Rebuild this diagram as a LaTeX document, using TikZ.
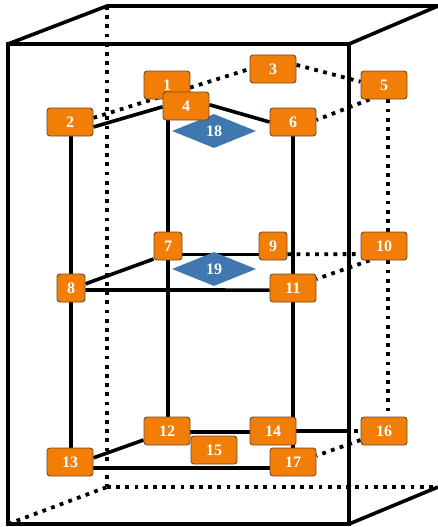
\documentclass[tikz,border=0pt]{standalone}
\usepackage{fontspec}
\setmainfont{Liberation Serif}
\usetikzlibrary{shapes.geometric,backgrounds}
\definecolor{boxorange}{HTML}{F27D07}
\definecolor{boxedge}{HTML}{6E4A28}
\definecolor{gemblue}{HTML}{3F77AF}
\tikzset{
  wide/.style={draw=boxedge,line width=0.9pt,fill=boxorange,rounded corners=3pt,minimum width=46pt,minimum height=28pt,inner sep=0pt,text=white,font=\bfseries\fontsize{16}{16}\selectfont},
  narrow/.style={wide,minimum width=28pt},
  gem/.style={diamond,aspect=2.5,fill=gemblue,minimum width=84pt,minimum height=34pt,inner sep=0pt,text=white,font=\bfseries\fontsize{16}{16}\selectfont},
  solidline/.style={draw=black,line width=3.6pt},
  dotline/.style={draw=black,line width=3.8pt,dash pattern=on 3.8pt off 5.4pt},
  frameline/.style={draw=black,line width=3.6pt},
}
\begin{document}
\begin{tikzpicture}[x=1pt,y=-1pt]
\useasboundingbox (0,0) rectangle (438,527);
% box corners
\coordinate (fa) at (8,44);
\coordinate (fb) at (349,44);
\coordinate (fc) at (349,524);
\coordinate (fd) at (8,524);
\coordinate (ba) at (107,6);
\coordinate (bb) at (438,6);
\coordinate (bc) at (438,487);
\coordinate (bd) at (107,487);
\coordinate (xc) at (345,431);
% nodes
\node[gem] (n18) at (214,131) {18};
\node[gem] (n19) at (214,269) {19};
\node[wide] (n1) at (167,85) {1};
\node[wide] (n2) at (70,122) {2};
\node[wide] (n3) at (273,69) {3};
\node[wide] (n4) at (186,106) {4};
\node[wide] (n5) at (384,85) {5};
\node[wide] (n6) at (293,122) {6};
\node[narrow] (n7) at (168,246) {7};
\node[narrow] (n8) at (71,288) {8};
\node[narrow] (n9) at (273,246) {9};
\node[wide] (n10) at (384,246) {10};
\node[wide] (n11) at (293,288) {11};
\node[wide] (n12) at (167,431) {12};
\node[wide] (n13) at (70,462) {13};
\node[wide] (n14) at (273,431) {14};
\node[wide] (n17) at (293,462) {17};
\node[wide] (n15) at (214,450) {15};
\node[wide] (n16) at (384,431) {16};
\begin{pgfonlayer}{background}
% frame
\draw[dotline] (ba) -- (bd);
\draw[dotline] (bd) -- (bc);
\draw[dotline] (fd) -- (bd);
\draw[frameline] (fa) -- (fb) -- (fc) -- (fd) -- cycle;
\draw[frameline] (fa) -- (ba) -- (bb);
\draw[frameline] (fb) -- (bb);
\draw[frameline] (fc) -- (bc);
% solid links
\draw[solidline] (n2.-12) -- (n4.182);
\draw[solidline] (n4.3) -- (n6.west);
\draw[solidline] (n8.north |- n2.south) -- (n8.north);
\draw[solidline] (n8.south) -- (n8.south |- n13.north);
\draw[solidline] (n7.north |- n4.south) -- (n7.north);
\draw[solidline] (n7.south) -- (n7.south |- n12.north);
\draw[solidline] (n6.south) -- (n11.north);
\draw[solidline] (n11.south) -- (n17.north);
\draw[solidline] (n7.-30) -- (n9.210);
\draw[solidline] (n7.222) -- (n8.16);
\draw[solidline] (n8.-8) -- (n11.185);
\draw[line width=4.2pt] (n12.-3) -- (n14.183);
\draw[solidline] (n12.201) -- (n13.10);
\draw[solidline] (n13.-15) -- (n17.195);
\draw[solidline] (n14.east) -- (xc);
% dotted links
\draw[dotline] (n2.10) -- (n3.west);
\draw[dotline] (n3.10) -- (n5.172);
\draw[dotline] (n5.225) -- (n6.5);
\draw[dotline] (n5.-74) -- (n10.74);
\draw[dotline] (n10.-74) -- (n16.74);
\draw[dotline] (n9.-30) -- (n10.199);
\draw[dotline] (n10.225) -- (n11.21);
\draw[dotline] (xc) -- (n16.west);
\draw[dotline] (n16.201) -- (n17.15);
\end{pgfonlayer}
\end{tikzpicture}
\end{document}
